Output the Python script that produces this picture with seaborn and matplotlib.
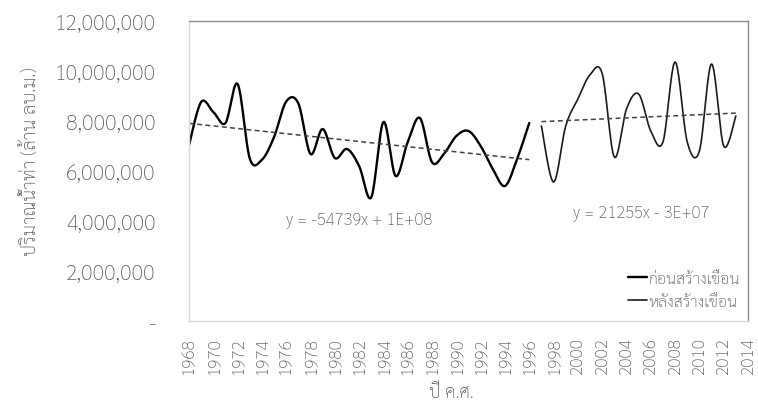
import numpy as np
import pandas as pd
import matplotlib
matplotlib.use('Agg')
import matplotlib.pyplot as plt
from matplotlib.ticker import FuncFormatter, MultipleLocator
import seaborn as sns

# ปริมาณน้ำท่ารายปี (ล้าน ลบ.ม.) อ่านจากกราฟ
years_before = list(range(1968, 1997))
flow_before = [7.04, 8.76, 8.36, 7.92, 9.48, 6.50, 6.45, 7.36, 8.78, 8.70,
               6.68, 7.68, 6.52, 6.88, 6.20, 4.95, 7.96, 5.80, 7.16, 8.12,
               6.35, 6.70, 7.40, 7.60, 7.00, 6.08, 5.40, 6.48, 7.92]
years_after = list(range(1997, 2014))
flow_after = [7.80, 5.56, 7.80, 8.88, 9.85, 9.90, 6.56, 8.48, 9.08, 7.60,
              7.16, 10.36, 7.16, 6.80, 10.28, 7.00, 8.20]

label_before = 'ก่อนสร้างเขื่อน'
label_after = 'หลังสร้างเขื่อน'
eq_before = 'y = -54739x + 1E+08'
eq_after = 'y = 21255x - 3E+07'
x_title = 'ปี ค.ศ.'
y_title = 'ปริมาณน้ำท่า (ล้าน ลบ.ม.)'

flow_before = [v * 1e6 for v in flow_before]
flow_after = [v * 1e6 for v in flow_after]

sns.set_theme(style='white')
plt.rcParams['font.family'] = ['Sarabun', 'DejaVu Sans']
plt.rcParams['font.weight'] = 'light'
plt.rcParams['axes.labelweight'] = 'light'
grey = '#595959'


# เส้นโค้งแบบ smooth line ของ Excel (Catmull-Rom)
def smooth(xs, ys, n=20):
    xs = np.asarray(xs, float)
    ys = np.asarray(ys, float)
    px = np.concatenate([[xs[0]], xs, [xs[-1]]])
    py = np.concatenate([[ys[0]], ys, [ys[-1]]])
    outx, outy = [], []
    t = np.linspace(0, 1, n, endpoint=False)
    for i in range(1, len(px) - 2):
        for arr, out in ((px, outx), (py, outy)):
            p0, p1, p2, p3 = arr[i - 1], arr[i], arr[i + 1], arr[i + 2]
            c1 = p1 + (p2 - p0) / 6
            c2 = p2 - (p3 - p1) / 6
            out.extend((1 - t) ** 3 * p1 + 3 * (1 - t) ** 2 * t * c1
                       + 3 * (1 - t) * t ** 2 * c2 + t ** 3 * p2)
    outx.append(xs[-1])
    outy.append(ys[-1])
    return pd.DataFrame({'year': outx, 'flow': outy})


fig, ax = plt.subplots(figsize=(7.58, 4.06), dpi=100)
fig.subplots_adjust(left=189 / 758, right=748 / 758, top=1 - 22 / 406, bottom=1 - 322 / 406)

sns.lineplot(data=smooth(years_before, flow_before), x='year', y='flow', sort=False,
             color='black', linewidth=1.7, label=label_before, ax=ax)
sns.lineplot(data=smooth(years_after, flow_after), x='year', y='flow', sort=False,
             color='#1a1a1a', linewidth=1.2, label=label_after, ax=ax)

# เส้นแนวโน้มเชิงเส้น
for yrs, vals in ((years_before, flow_before), (years_after, flow_after)):
    k, b = np.polyfit(yrs, vals, 1)
    xx = np.array([yrs[0], yrs[-1]])
    ax.plot(xx, k * xx + b, color='#404040', linewidth=1.1, dashes=(3.2, 2.2))

ax.text(0.304, 0.337, eq_before, transform=ax.transAxes, ha='center', va='center',
        fontsize=12, color=grey)
ax.text(0.809, 0.363, eq_after, transform=ax.transAxes, ha='center', va='center',
        fontsize=12, color=grey)

ax.set_xlim(1968, 2014)
ax.set_ylim(0, 12e6)
ax.xaxis.set_major_locator(MultipleLocator(2))
ax.yaxis.set_major_locator(MultipleLocator(2e6))
ax.yaxis.set_major_formatter(FuncFormatter(lambda v, p: '-' if v == 0 else f'{v:,.0f}'))
ax.tick_params(axis='x', labelrotation=90, labelsize=12.5, labelcolor=grey, length=0, pad=11)
ax.tick_params(axis='y', labelsize=15.5, labelcolor=grey, length=0, pad=24)

ax.set_xlabel(x_title, fontsize=13, color=grey, va='center')
ax.xaxis.set_label_coords(0.47, -0.237)
ax.set_ylabel(y_title, fontsize=13.5, color=grey, va='center')
ax.yaxis.set_label_coords(-0.283, 0.535)

for side in ('top', 'right'):
    ax.spines[side].set_color('#8c8c8c')
    ax.spines[side].set_linewidth(1.0)
for side in ('left', 'bottom'):
    ax.spines[side].set_color('#d9d9d9')
    ax.spines[side].set_linewidth(1.0)

leg = ax.legend(loc='lower right', bbox_to_anchor=(1.005, 0.0), frameon=False,
                fontsize=11.5, handlelength=1.2, handletextpad=0.05, labelspacing=0.5,
                borderaxespad=0.3)
for t in leg.get_texts():
    t.set_color(grey)

fig.savefig('out.png', dpi=100)
